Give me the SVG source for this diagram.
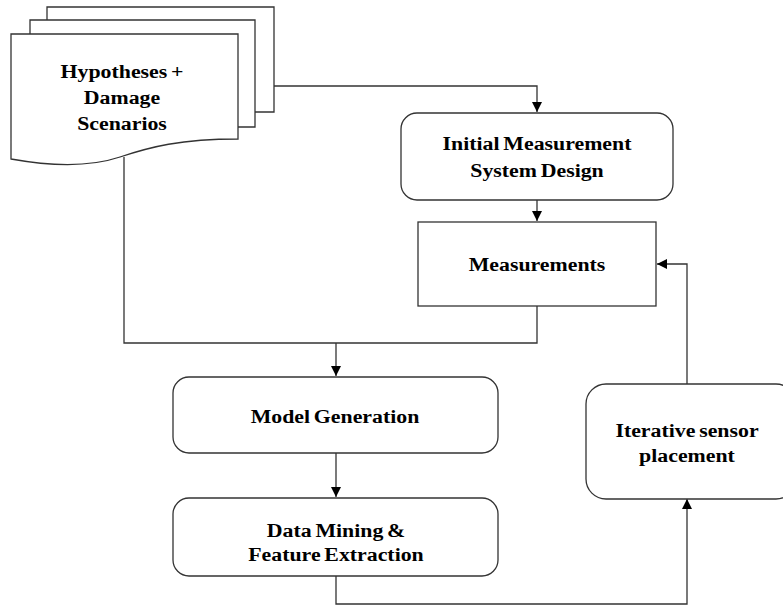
<svg xmlns="http://www.w3.org/2000/svg" width="783" height="608" viewBox="0 0 783 608">
<style>
.box{fill:#fff;stroke:#333;stroke-width:1.3}
.ln{fill:none;stroke:#333;stroke-width:1.3}
.t{font-family:"Liberation Serif","Times New Roman",serif;font-weight:bold;font-size:19.5px;fill:#000;text-anchor:middle;word-spacing:-1.5px}
</style>
<defs>
<marker id="ah" viewBox="0 0 10 10" refX="10" refY="5" markerWidth="10" markerHeight="10" markerUnits="userSpaceOnUse" orient="auto">
<path d="M0,0 L10,5 L0,10 Z" fill="#000"/>
</marker>
</defs>
<rect width="783" height="608" fill="#fff"/>
<g id="connectors">
<path class="ln" d="M274,86 H537 V112" marker-end="url(#ah)"/>
<path class="ln" d="M537,200 V221" marker-end="url(#ah)"/>
<path class="ln" d="M124,157 V343 H537 V306"/>
<path class="ln" d="M336,343 V376" stroke-width="2" marker-end="url(#ah)"/>
<path class="ln" d="M336,453 V497" marker-end="url(#ah)"/>
<path class="ln" d="M336,576 V604 H687 V499" marker-end="url(#ah)"/>
<path class="ln" d="M687,384 V264 H657" marker-end="url(#ah)"/>
</g>
<g id="hypotheses">
<path class="box" d="M47,20 V7 H274 V112 H255"/>
<path class="box" d="M30,34 V20 H255 V127 H238"/>
<path class="box" d="M11,34 H238 V139 C180,139 150,147 120,157 C90,167 50,166 11,159 Z"/>
<text class="t" transform="translate(122,78) scale(1.12,1)">Hypotheses +</text>
<text class="t" transform="translate(122,104) scale(1.12,1)">Damage</text>
<text class="t" transform="translate(122,130) scale(1.12,1)">Scenarios</text>
</g>
<g id="initial">
<rect class="box" x="401" y="113" width="272" height="87" rx="16"/>
<text class="t" transform="translate(537,150) scale(1.12,1)">Initial Measurement</text>
<text class="t" transform="translate(537,177) scale(1.12,1)">System Design</text>
</g>
<g id="measurements">
<rect class="box" x="418" y="222" width="238" height="84"/>
<text class="t" transform="translate(537,271) scale(1.12,1)">Measurements</text>
</g>
<g id="model">
<rect class="box" x="173" y="377" width="325" height="76" rx="16"/>
<text class="t" transform="translate(335,423) scale(1.12,1)">Model Generation</text>
</g>
<g id="datamining">
<rect class="box" x="173" y="498" width="325" height="78" rx="16"/>
<text class="t" transform="translate(336,537) scale(1.12,1)">Data Mining &amp;</text>
<text class="t" transform="translate(336,561) scale(1.12,1)">Feature Extraction</text>
</g>
<g id="iterative">
<rect class="box" x="586" y="384" width="210" height="115" rx="20"/>
<text class="t" transform="translate(687,437) scale(1.12,1)">Iterative sensor</text>
<text class="t" transform="translate(687,462) scale(1.12,1)">placement</text>
</g>
</svg>
